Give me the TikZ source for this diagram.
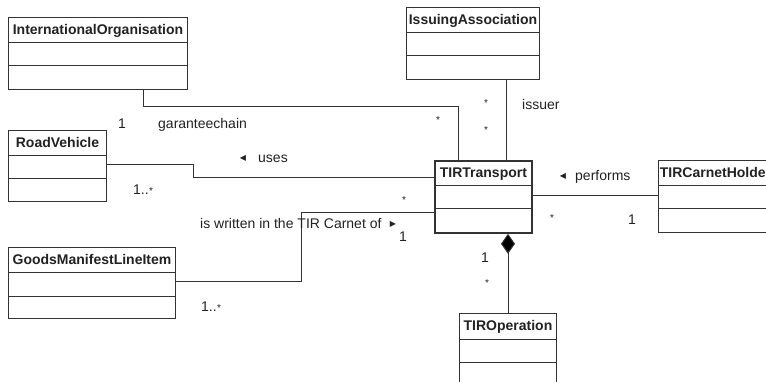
\documentclass[tikz,border=0pt]{standalone}
\usepackage{fontspec}
\setmainfont{Liberation Sans}
\newfontfamily\symf{DejaVu Sans}
\usetikzlibrary{calc,arrows.meta}
\tikzset{
  cls/.style={draw=linec, line width=1pt, rectangle, inner sep=0pt, anchor=north west},
  clsbold/.style={cls, line width=1.8pt},
  ttl/.style={font=\fontsize{14}{14}\selectfont\bfseries, text=txtc, inner sep=0pt, anchor=base},
  lbl/.style={font=\fontsize{14}{14}\selectfont, text=txtc, inner sep=0pt, anchor=base west},
  star/.style={font=\fontsize{10}{10}\selectfont, text=txtc, inner sep=0pt, anchor=base west},
  tri/.style={font=\symf\fontsize{8}{8}\selectfont, text=txtc, inner sep=0pt, anchor=center},
  conn/.style={draw=linec, line width=1pt},
}
\definecolor{linec}{HTML}{333333}
\definecolor{txtc}{HTML}{222222}
\newcommand{\umlclass}[7][cls]{%
  \node[#1, minimum width=#5pt, minimum height=#6pt] (#2) at (#3,#4) {};
  \node[ttl] (#2-t) at ($(#2.north)+(0,17.5)$) {#7};
  \draw[draw=linec, line width=1pt] ($(#2.north west)+(0,26)$) -- ($(#2.north east)+(0,26)$);
  \draw[draw=linec, line width=1pt] ($(#2.north west)+(0,49)$) -- ($(#2.north east)+(0,49)$);
}
\begin{document}
\begin{tikzpicture}[x=1pt,y=-1pt]
\useasboundingbox (0,0) rectangle (766,382);
\clip (0,0) rectangle (766,382);
\fill[white] (0,0) rectangle (766,382);
% classes
\umlclass{io}{8}{17}{179}{72}{InternationalOrganisation}
\umlclass{ia}{406}{7}{133}{72}{IssuingAssociation}
\umlclass{rv}{8}{130}{98}{71}{RoadVehicle}
\umlclass[clsbold]{tt}{434}{160}{97}{72}{TIRTransport}
\umlclass{th}{658}{160}{114}{72}{TIRCarnetHolder}
\umlclass{gm}{8}{247}{167}{71}{GoodsManifestLineItem}
\umlclass{to}{459}{313}{97}{80}{TIROperation}
% helper coordinates
\coordinate (xa) at (143,107);
\coordinate (xb) at (458,107);
\coordinate (xia) at (506,0);
\coordinate (rv1) at (193,165);
\coordinate (rv2) at (193,178);
\coordinate (gm1) at (301,282);
\coordinate (gm2) at (301,213);
\coordinate (yth) at (0,196);
% connectors
\draw[conn] (io.south -| xa) -- (xa) -- (xb) -- (tt.north -| xb);
\draw[conn] (ia.south -| xia) -- (tt.north -| xia);
\draw[conn] (rv.east |- rv1) -- (rv1) -- (rv2) -- (tt.west |- rv2);
\draw[conn] (gm.east |- gm1) -- (gm1) -- (gm2) -- (tt.west |- gm2);
\draw[conn] (tt.east |- yth) -- (th.west |- yth);
\draw[conn, -{Diamond[length=20pt,width=14pt,fill=black]}] (to.north) -- (to.north |- tt.south);
% labels
\node[lbl] (l1) at (118,129) {1};
\node[lbl] (lgc) at (158,129) {garanteechain};
\node[tri] (tu) at (243,158) {◀};
\node[lbl] (luses) at (258,163) {uses};
\node[lbl] (lrv) at (133,195) {1..};
\node[star] (lrvs) at (lrv.base east) {*};
\node[star] (s1) at (436,124) {*};
\node[star] (s2) at (484,107) {*};
\node[star] (s3) at (484,134) {*};
\node[lbl] (liss) at (522,110) {issuer};
\node[tri] (tp) at (563,176) {◀};
\node[lbl] (lperf) at (575,181) {performs};
\node[star] (s4) at (550,222) {*};
\node[lbl] (l2) at (628,225) {1};
\node[lbl] (lwr) at (200,229) {is written in the TIR Carnet of};
\node[tri] (tw) at (393,224) {▶};
\node[star] (s5) at (402,204) {*};
\node[lbl] (l3) at (399,242) {1};
\node[lbl] (lgm) at (201,312) {1..};
\node[star] (lgms) at (lgm.base east) {*};
\node[lbl] (l4) at (481,263) {1};
\node[star] (s6) at (485,287) {*};
\end{tikzpicture}
\end{document}
